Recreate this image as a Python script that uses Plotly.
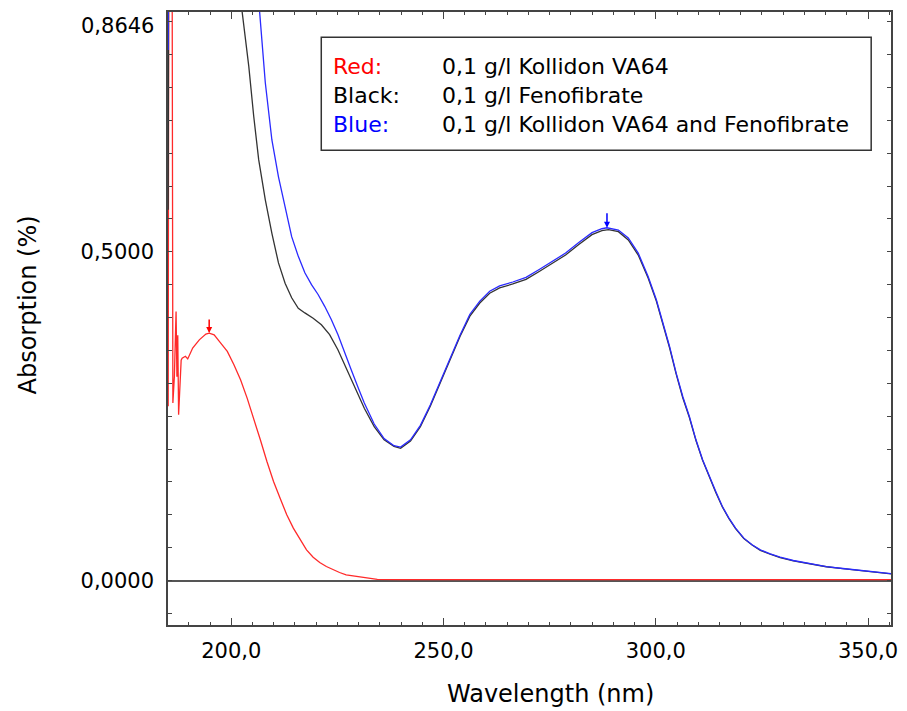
import plotly.graph_objects as go

# ---------------- data ----------------
red_nm = [185.15, 185.4, 185.9, 186.25, 186.6, 187.0, 187.2, 187.4, 187.6, 187.96,
          188.2, 188.43, 189.2, 189.75, 190.91, 192.47, 194.02, 194.8, 195.97, 197.52,
          199.07, 200.63, 202.19, 203.74, 205.29, 206.85, 208.4, 209.96, 211.51, 213.07,
          214.62, 216.18, 217.73, 219.29, 220.84, 222.4, 223.95, 225.51, 227.06, 228.61,
          229.78, 231.3, 233.0, 234.4, 240.0, 260.0, 280.0, 300.0, 320.0, 340.0, 355.6]
red_abs = [0.265, 1.6, 1.6, 0.27, 0.31, 0.409, 0.31, 0.373, 0.252, 0.295,
           0.335, 0.338, 0.341, 0.337, 0.3535, 0.366, 0.3748, 0.3763, 0.3737, 0.3611,
           0.3484, 0.3281, 0.3053, 0.2774, 0.247, 0.214, 0.1811, 0.1506, 0.1253, 0.0999,
           0.0797, 0.0629, 0.0467, 0.0355, 0.0274, 0.0213, 0.0163, 0.0122, 0.0087, 0.0071,
           0.0066, 0.0046, 0.0028, 0.0018, 0.0015, 0.0015, 0.0015, 0.0015, 0.0015, 0.0015, 0.0015]

black_nm = [185.15, 185.4, 201.5, 202.57, 204.13, 205.29, 206.46, 208.02, 209.57, 211.12,
            212.68, 214.23, 215.79, 217.34, 219.29, 221.23, 223.17, 225.12, 227.06, 229.0,
            231.34, 233.67, 236.0, 238.33, 239.89, 242.22, 244.55, 246.88, 249.21, 251.55,
            253.88, 256.21, 258.54, 260.87, 263.21, 266.32, 269.43, 272.54, 275.65, 278.75,
            281.86, 284.97, 287.3, 288.86, 291.19, 293.52, 295.86, 298.19, 300.13, 301.69,
            303.24, 304.8, 306.35, 307.91, 309.46, 311.02, 312.57, 314.13, 315.68, 317.23,
            318.79, 320.73, 322.68, 324.62, 326.95, 329.28, 332.39, 336.28, 340.16, 344.05,
            347.94, 351.82, 355.7]
black_abs = [0.564, 1.6, 0.921, 0.864, 0.782, 0.706, 0.640, 0.579, 0.528, 0.483,
             0.452, 0.430, 0.414, 0.407, 0.399, 0.389, 0.374, 0.351, 0.323, 0.295,
             0.262, 0.234, 0.214, 0.204, 0.201, 0.212, 0.234, 0.265, 0.300, 0.336,
             0.371, 0.402, 0.422, 0.437, 0.445, 0.451, 0.458, 0.470, 0.483, 0.495,
             0.511, 0.526, 0.532, 0.5335, 0.5305, 0.518, 0.495, 0.460, 0.425, 0.390,
             0.354, 0.314, 0.278, 0.248, 0.213, 0.183, 0.157, 0.134, 0.112, 0.094,
             0.079, 0.064, 0.054, 0.046, 0.040, 0.035, 0.030, 0.025, 0.021, 0.018,
             0.015, 0.0125, 0.010]

blue_nm = [185.15, 185.4, 205.5, 206.69, 208.02, 209.57, 211.12, 212.68, 214.23, 215.79,
           217.34, 218.9, 220.45, 222.01, 223.56, 225.12, 226.67, 228.23, 229.78, 231.34,
           233.67, 236.0, 238.33, 239.89, 242.22, 244.55, 246.88, 249.21, 251.55, 253.88,
           256.21, 258.54, 260.87, 263.21, 266.32, 269.43, 272.54, 275.65, 278.75, 281.86,
           284.97, 287.3, 288.47, 291.19, 293.52, 295.86, 298.19, 300.13, 301.69, 303.24,
           304.8, 306.35, 307.91, 309.46, 311.02, 312.57, 314.13, 315.68, 317.23, 318.79,
           320.73, 322.68, 324.62, 326.95, 329.28, 332.39, 336.28, 340.16, 344.05, 347.94,
           351.82, 355.7]
blue_abs = [0.807, 1.6, 0.93, 0.864, 0.757, 0.670, 0.614, 0.568, 0.523, 0.493,
            0.468, 0.450, 0.435, 0.417, 0.397, 0.374, 0.346, 0.321, 0.295, 0.270,
            0.238, 0.216, 0.205, 0.203, 0.214, 0.236, 0.267, 0.302, 0.338, 0.373,
            0.405, 0.425, 0.440, 0.448, 0.454, 0.461, 0.473, 0.486, 0.498, 0.514,
            0.529, 0.535, 0.5365, 0.533, 0.521, 0.498, 0.4625, 0.427, 0.3915, 0.356,
            0.3154, 0.2799, 0.2495, 0.214, 0.1836, 0.1582, 0.1354, 0.1126, 0.0949, 0.0797,
            0.0645, 0.0543, 0.0467, 0.0406, 0.0355, 0.0305, 0.0254, 0.0213, 0.0183, 0.0153,
            0.0127, 0.0102]

red_peak = (194.8, 0.3763)
blue_peak = (288.5, 0.5365)

x_ticks = [200, 250, 300, 350]
x_ticktext = ["200,0", "250,0", "300,0", "350,0"]
y_ticks = [0.0, 0.5, 0.8646]
y_ticktext = ["0,0000", "0,5000", ""]
top_label = "0,8646"

legend_keys = ["Red:", "Black:", "Blue:"]
legend_texts = ["0,1 g/l Kollidon VA64", "0,1 g/l Fenofibrate",
                "0,1 g/l Kollidon VA64 and Fenofibrate"]
legend_colors = ["#ff0000", "#000000", "#0000ff"]

# ---------------- figure ----------------
FONT = "DejaVu Sans"
fig = go.Figure()
fig.add_trace(go.Scatter(x=red_nm, y=red_abs, mode="lines",
                         line=dict(color="#ff2a2a", width=1.3), showlegend=False))
fig.add_trace(go.Scatter(x=black_nm, y=black_abs, mode="lines",
                         line=dict(color="#333333", width=1.3), showlegend=False))
fig.add_trace(go.Scatter(x=blue_nm, y=blue_abs, mode="lines",
                         line=dict(color="#2a2aff", width=1.3), showlegend=False))

axis_common = dict(showline=True, linecolor="#444444", linewidth=1.5, mirror="ticks",
                   ticks="inside", tickcolor="#444444", tickwidth=1.3,
                   showgrid=False, tickfont=dict(family=FONT, size=21, color="#000"))

fig.update_xaxes(range=[185.1, 355.4], tickmode="array", tickvals=x_ticks,
                 ticktext=x_ticktext, ticklen=7, zeroline=False,
                 minor=dict(tickmode="linear", tick0=0, dtick=5, ticks="inside",
                            ticklen=3.5, tickcolor="#444444", tickwidth=1.2),
                 ticklabelstandoff=6, **axis_common)
fig.update_yaxes(range=[-0.0676, 0.8646], tickmode="array", tickvals=y_ticks,
                 ticktext=y_ticktext, ticklen=4, zeroline=True,
                 zerolinecolor="#555555", zerolinewidth=2,
                 minor=dict(tickmode="linear", tick0=0, dtick=0.05, ticks="inside",
                            ticklen=4, tickcolor="#444444", tickwidth=1.2),
                 ticklabelstandoff=8, **axis_common)

ann = []
# top tick label
ann.append(dict(x=0, xref="paper", xanchor="right", xshift=-12,
                y=y_ticks[2], yref="y", yanchor="top", yshift=0,
                text=top_label, showarrow=False,
                font=dict(family=FONT, size=21, color="#000")))
# axis titles
ann.append(dict(x=-0.193, xref="paper", y=0.522, yref="paper", text="Absorption (%)",
                textangle=-90, showarrow=False, xanchor="center", yanchor="middle",
                font=dict(family=FONT, size=24, color="#000")))
ann.append(dict(x=0.5294, xref="paper", y=-0.112, yref="paper", text="Wavelength (nm)",
                showarrow=False, xanchor="center", yanchor="middle",
                font=dict(family=FONT, size=24, color="#000")))
# legend text
rows_y = [0.9115, 0.8645, 0.8172]
for k, t, c, yy in zip(legend_keys, legend_texts, legend_colors, rows_y):
    ann.append(dict(x=0.2261, xref="paper", y=yy, yref="paper", text=k, showarrow=False,
                    xanchor="left", yanchor="middle",
                    font=dict(family=FONT, size=22, color=c)))
    ann.append(dict(x=0.3766, xref="paper", y=yy, yref="paper", text=t, showarrow=False,
                    xanchor="left", yanchor="middle",
                    font=dict(family=FONT, size=22, color="#000")))
# peak markers
ann.append(dict(x=red_peak[0], y=red_peak[1], xref="x", yref="y", text="",
                showarrow=True, ax=0, ay=-15, arrowhead=2, arrowsize=0.8,
                arrowwidth=1.5, arrowcolor="#ff0000", standoff=0))
ann.append(dict(x=blue_peak[0], y=blue_peak[1], xref="x", yref="y", text="",
                showarrow=True, ax=0, ay=-16, arrowhead=2, arrowsize=0.8,
                arrowwidth=1.5, arrowcolor="#0000ff", standoff=0))

fig.update_layout(
    width=907, height=711,
    margin=dict(l=168, r=9, t=12, b=86),
    paper_bgcolor="white", plot_bgcolor="white",
    font=dict(family=FONT, color="#000"),
    annotations=ann,
    shapes=[dict(type="rect", xref="paper", yref="paper",
                 x0=0.2120, x1=0.9726, y0=0.7744, y1=0.9589,
                 line=dict(color="#333333", width=1.5), fillcolor="white", layer="above")],
)

fig.write_html("out.html")
